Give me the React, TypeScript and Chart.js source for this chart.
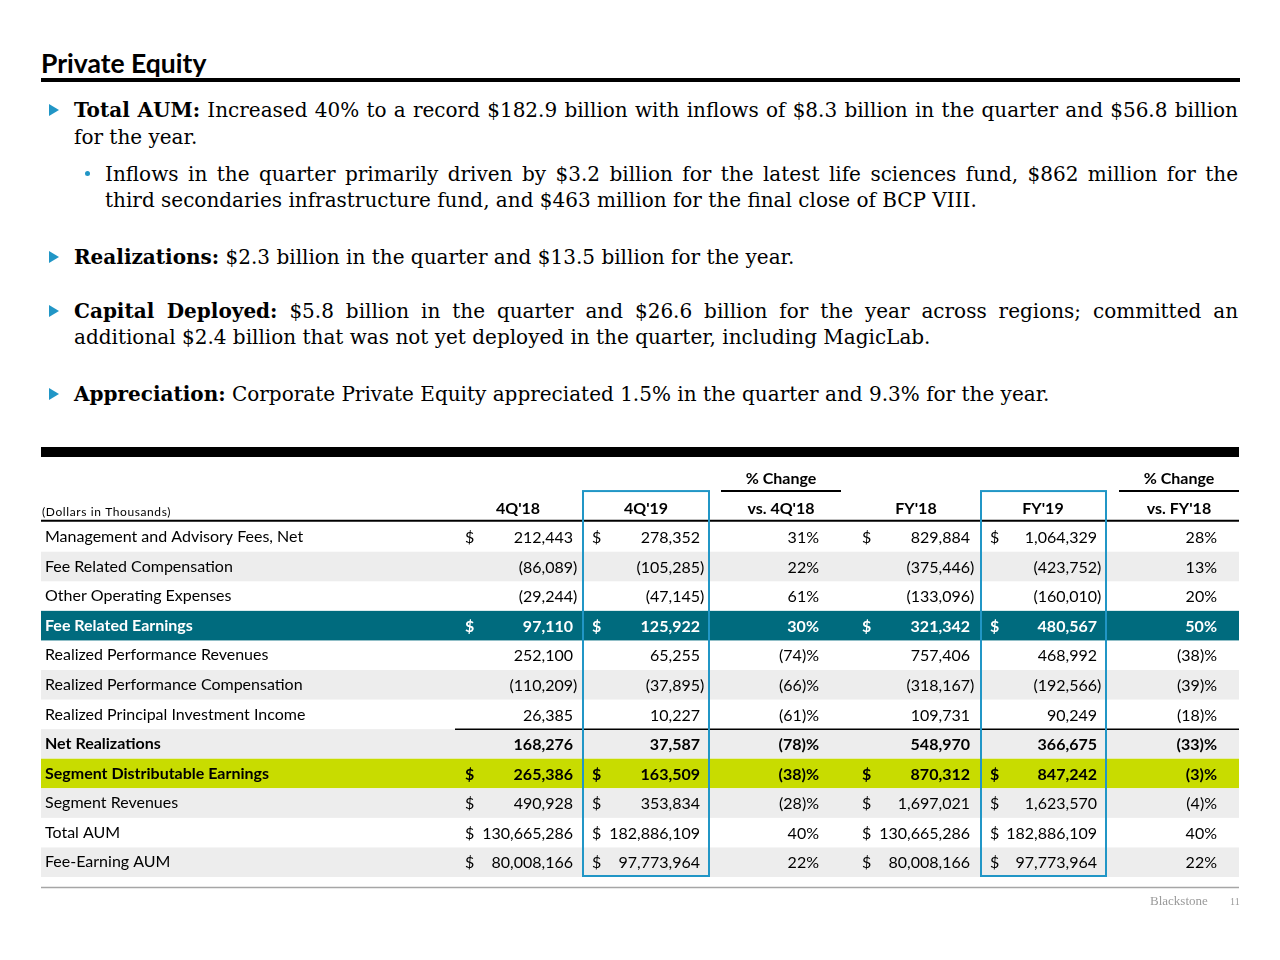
import React, { useEffect, useRef } from 'react';
import { Chart, registerables } from 'chart.js';

Chart.register(...registerables);

// ---------- data ----------
const rowLabels = [
  'Management and Advisory Fees, Net',
  'Fee Related Compensation',
  'Other Operating Expenses',
  'Fee Related Earnings',
  'Realized Performance Revenues',
  'Realized Performance Compensation',
  'Realized Principal Investment Income',
  'Net Realizations',
  'Segment Distributable Earnings',
  'Segment Revenues',
  'Total AUM',
  'Fee-Earning AUM',
];
const q4_2018 = [212443, -86089, -29244, 97110, 252100, -110209, 26385, 168276, 265386, 490928, 130665286, 80008166];
const q4_2019 = [278352, -105285, -47145, 125922, 65255, -37895, 10227, 37587, 163509, 353834, 182886109, 97773964];
const qChange = [31, 22, 61, 30, -74, -66, -61, -78, -38, -28, 40, 22];
const fy2018 = [829884, -375446, -133096, 321342, 757406, -318167, 109731, 548970, 870312, 1697021, 130665286, 80008166];
const fy2019 = [1064329, -423752, -160010, 480567, 468992, -192566, 90249, 366675, 847242, 1623570, 182886109, 97773964];
const fyChange = [28, 13, 20, 50, -38, -39, -18, -33, -3, -4, 40, 22];
const dollarRows = [
  'Management and Advisory Fees, Net',
  'Fee Related Earnings',
  'Segment Distributable Earnings',
  'Segment Revenues',
  'Total AUM',
  'Fee-Earning AUM',
];
const boldRows = ['Fee Related Earnings', 'Net Realizations', 'Segment Distributable Earnings'];
const columnHeaders = ["4Q'18", "4Q'19", "vs. 4Q'18", "FY'18", "FY'19", "vs. FY'18"];
const changeHeader = '% Change';
const unitsLabel = '(Dollars in Thousands)';
const headerRows = ['', ''];

// ---------- styles / layout ----------
const SANS = 'Lato';
const SERIF = '"DejaVu Serif", "Liberation Serif", serif';
const TEAL = '#006b7e';
const LIME = '#c8dc00';
const GRAY = '#ededed';
const BLUE = '#2196c6';
const FS = 16;
const rowFillOverride: Record<string, string> = {
  'Fee Related Earnings': TEAL,
  'Segment Distributable Earnings': LIME,
};
const rowTextColor: Record<string, string> = { 'Fee Related Earnings': '#ffffff' };
const TABLE_LEFT = 41;
const TABLE_RIGHT = 1239;

type Col = { values: number[]; kind: 'num' | 'pct'; dollarX?: number; rightX: number; headerX: number; boxed?: boolean };
const columns: Col[] = [
  { values: q4_2018, kind: 'num', dollarX: 465, rightX: 573, headerX: 518 },
  { values: q4_2019, kind: 'num', dollarX: 592, rightX: 700, headerX: 646, boxed: true },
  { values: qChange, kind: 'pct', rightX: 819, headerX: 781 },
  { values: fy2018, kind: 'num', dollarX: 862, rightX: 970, headerX: 916 },
  { values: fy2019, kind: 'num', dollarX: 990, rightX: 1097, headerX: 1043, boxed: true },
  { values: fyChange, kind: 'pct', rightX: 1217, headerX: 1179 },
];
const changeSpans = [
  [721, 841],
  [1119, 1239],
];

const fmt = (v: number) => Math.abs(v).toLocaleString('en-US');

const tablePlugin = {
  id: 'tableCells',
  beforeDraw(chart: any) {
    const { ctx, scales } = chart;
    const y = scales.y;
    const band = y.getPixelForValue(1) - y.getPixelForValue(0);
    ctx.save();
    const top = y.getPixelForValue(0) - band / 2;
    ctx.fillStyle = '#000';
    ctx.fillRect(TABLE_LEFT, top - 16, TABLE_RIGHT - TABLE_LEFT, 10);
    rowLabels.forEach((label, i) => {
      const cy = y.getPixelForValue(i + headerRows.length);
      const fill = rowFillOverride[label] || (i % 2 === 1 ? GRAY : null);
      if (fill) {
        ctx.fillStyle = fill;
        ctx.fillRect(TABLE_LEFT, cy - band / 2, TABLE_RIGHT - TABLE_LEFT, band);
      }
    });
    ctx.restore();
  },
  afterDraw(chart: any) {
    const { ctx, scales } = chart;
    const x = scales.x;
    const y = scales.y;
    const band = y.getPixelForValue(1) - y.getPixelForValue(0);
    ctx.save();
    ctx.textBaseline = 'middle';

    const h1 = y.getPixelForValue(0);
    const h2 = y.getPixelForValue(1);
    // units label
    ctx.font = `12px ${SANS}`;
    ctx.fillStyle = '#000';
    ctx.textAlign = 'left';
    (ctx as any).letterSpacing = '0.6px';
    ctx.fillText(unitsLabel, 42, h2 + 5);
    (ctx as any).letterSpacing = '0px';
    // headers
    ctx.font = `bold ${FS}px ${SANS}`;
    ctx.textAlign = 'center';
    columns.forEach((c, i) => {
      ctx.fillText(columnHeaders[i], x.getPixelForValue(c.headerX), h2 + 1);
      if (c.kind === 'pct') ctx.fillText(changeHeader, x.getPixelForValue(c.headerX), h1 + 1);
    });
    ctx.lineWidth = 2;
    ctx.strokeStyle = '#000';
    changeSpans.forEach(([a, b]) => {
      ctx.beginPath();
      ctx.moveTo(x.getPixelForValue(a), h1 + band / 2 - 1.5);
      ctx.lineTo(x.getPixelForValue(b), h1 + band / 2 - 1.5);
      ctx.stroke();
    });
    const firstRowTop = y.getPixelForValue(headerRows.length) - band / 2;
    ctx.beginPath();
    ctx.moveTo(TABLE_LEFT, firstRowTop - 1.5);
    ctx.lineTo(TABLE_RIGHT, firstRowTop - 1.5);
    ctx.stroke();

    // cells
    rowLabels.forEach((label, r) => {
      const cy = y.getPixelForValue(r + headerRows.length) + 1;
      const bold = boldRows.includes(label);
      ctx.font = `${bold ? 'bold ' : ''}${FS}px ${SANS}`;
      ctx.fillStyle = rowTextColor[label] || '#000';
      columns.forEach((c) => {
        const v = c.values[r];
        const rx = x.getPixelForValue(c.rightX);
        if (c.kind === 'pct') {
          ctx.textAlign = 'right';
          ctx.fillText(v < 0 ? `(${Math.abs(v)})%` : `${v}%`, rx, cy);
        } else {
          ctx.textAlign = 'right';
          ctx.fillText(v < 0 ? `(${fmt(v)}` : fmt(v), rx, cy);
          if (v < 0) {
            ctx.textAlign = 'left';
            ctx.fillText(')', rx, cy);
          }
          if (dollarRows.includes(label) && c.dollarX !== undefined) {
            ctx.textAlign = 'left';
            ctx.fillText('$', x.getPixelForValue(c.dollarX), cy);
          }
        }
      });
    });

    // subtotal line above Net Realizations
    const nrIdx = rowLabels.indexOf('Net Realizations') + headerRows.length;
    const nrTop = y.getPixelForValue(nrIdx) - band / 2;
    ctx.lineWidth = 1.5;
    ctx.strokeStyle = '#000';
    ctx.beginPath();
    ctx.moveTo(x.getPixelForValue(455), nrTop);
    ctx.lineTo(TABLE_RIGHT, nrTop);
    ctx.stroke();

    // bottom rule
    const bottom = y.getPixelForValue(headerRows.length + rowLabels.length - 1) + band / 2;
    ctx.strokeStyle = '#a6a6a6';
    ctx.lineWidth = 1.5;
    ctx.beginPath();
    ctx.moveTo(TABLE_LEFT, bottom + 10.5);
    ctx.lineTo(TABLE_RIGHT, bottom + 10.5);
    ctx.stroke();

    // blue boxes around current-period columns
    ctx.strokeStyle = BLUE;
    ctx.lineWidth = 2;
    columns.forEach((c) => {
      if (!c.boxed) return;
      const left = x.getPixelForValue((c.dollarX as number) - 9);
      const right = x.getPixelForValue(c.rightX + 9);
      const t = h1 + band / 2 - 1.5;
      ctx.strokeRect(left, t, right - left, bottom - t - 1);
    });
    ctx.restore();
  },
};

function TableChart() {
  const ref = useRef<HTMLCanvasElement | null>(null);
  useEffect(() => {
    let chart: Chart | null = null;
    let cancelled = false;
    const allLabels = [...headerRows, ...rowLabels];
    const make = () => {
      if (cancelled || !ref.current) return;
      chart = new Chart(ref.current, {
        type: 'bar',
        data: { labels: allLabels, datasets: [] },
        options: {
          indexAxis: 'y',
          responsive: false,
          maintainAspectRatio: false,
          animation: false,
          events: [],
          layout: { padding: { left: 45, right: 1280 - TABLE_RIGHT, top: 23, bottom: 23 } },
          plugins: { legend: { display: false }, tooltip: { enabled: false }, title: { display: false } },
          scales: {
            x: { type: 'linear', min: 455, max: TABLE_RIGHT, display: false },
            y: {
              type: 'category',
              position: 'left',
              offset: true,
              grid: { display: false, drawTicks: false },
              border: { display: false },
              afterFit: (s: any) => {
                s.width = 410;
              },
              ticks: {
                autoSkip: false,
                crossAlign: 'far',
                padding: 0,
                color: (c: any) => rowTextColor[allLabels[c.index]] || '#000',
                font: (c: any) => ({
                  family: SANS,
                  size: FS,
                  weight: boldRows.includes(allLabels[c.index]) ? 'bold' : 'normal',
                }),
              },
            },
          },
        } as any,
        plugins: [tablePlugin],
      });
    };
    const fonts = (document as any).fonts;
    if (fonts && fonts.load) {
      Promise.all([fonts.load(`${FS}px ${SANS}`), fonts.load(`bold ${FS}px ${SANS}`)]).then(make, make);
    } else make();
    return () => {
      cancelled = true;
      if (chart) chart.destroy();
    };
  }, []);
  return (
    <canvas
      ref={ref}
      width={1280}
      height={460}
      style={{ position: 'absolute', left: 0, top: 440, width: 1280, height: 460 }}
    />
  );
}

const Tri = ({ cy }: { cy: number }) => (
  <div
    style={{
      position: 'absolute',
      left: 49,
      top: cy - 6.5,
      width: 0,
      height: 0,
      borderLeft: `10px solid ${BLUE}`,
      borderTop: '6.5px solid transparent',
      borderBottom: '6.5px solid transparent',
    }}
  />
);

const Line = ({ left, baseline, justify, children }: { left: number; baseline: number; justify?: boolean; children: any }) => (
  <div
    style={{
      position: 'absolute',
      left,
      top: baseline - 21,
      width: 1238 - left,
      height: 28,
      lineHeight: '28px',
      fontFamily: SERIF,
      fontSize: 20,
      color: '#000',
      textAlign: justify ? 'justify' : 'left',
      textAlignLast: justify ? 'justify' : 'auto',
      whiteSpace: 'nowrap',
    } as any}
  >
    {children}
  </div>
);

export default function App() {
  return (
    <div style={{ position: 'absolute', left: 0, top: 0, width: 1280, height: 960, background: '#fff', overflow: 'hidden' }}>
      <div
        style={{
          position: 'absolute',
          left: 41,
          top: 48.5,
          fontFamily: SANS,
          fontWeight: 'bold',
          fontSize: 26.5,
          lineHeight: '28px',
          color: '#000',
          whiteSpace: 'nowrap',
        }}
      >
        Private Equity
      </div>
      <div style={{ position: 'absolute', left: 41, top: 78, width: 1199, height: 4, background: '#000' }} />

      <Tri cy={110} />
      <Line left={74} baseline={117} justify>
        <b>Total AUM:</b> Increased 40% to a record $182.9 billion with inflows of $8.3 billion in the quarter and $56.8 billion
      </Line>
      <Line left={74} baseline={144}>
        for the year.
      </Line>
      <div style={{ position: 'absolute', left: 85, top: 171, width: 5, height: 5, borderRadius: 3, background: BLUE }} />
      <Line left={105} baseline={181} justify>
        Inflows in the quarter primarily driven by $3.2 billion for the latest life sciences fund, $862 million for the
      </Line>
      <Line left={105} baseline={207}>
        third secondaries infrastructure fund, and $463 million for the final close of BCP VIII.
      </Line>

      <Tri cy={257} />
      <Line left={74} baseline={264}>
        <b>Realizations:</b> $2.3 billion in the quarter and $13.5 billion for the year.
      </Line>

      <Tri cy={311} />
      <Line left={74} baseline={318} justify>
        <b>Capital Deployed:</b> $5.8 billion in the quarter and $26.6 billion for the year across regions; committed an
      </Line>
      <Line left={74} baseline={344}>
        additional $2.4 billion that was not yet deployed in the quarter, including MagicLab.
      </Line>

      <Tri cy={394} />
      <Line left={74} baseline={401}>
        <b>Appreciation:</b> Corporate Private Equity appreciated 1.5% in the quarter and 9.3% for the year.
      </Line>

      <TableChart />

      <div
        style={{
          position: 'absolute',
          left: 1150,
          top: 893,
          fontFamily: '"Liberation Serif", serif',
          fontSize: 13,
          lineHeight: '16px',
          color: '#9a9a9a',
          whiteSpace: 'nowrap',
        }}
      >
        Blackstone
      </div>
      <div
        style={{
          position: 'absolute',
          left: 1230,
          top: 895,
          fontFamily: '"Liberation Serif", serif',
          fontSize: 10,
          lineHeight: '14px',
          color: '#9a9a9a',
        }}
      >
        11
      </div>
    </div>
  );
}
